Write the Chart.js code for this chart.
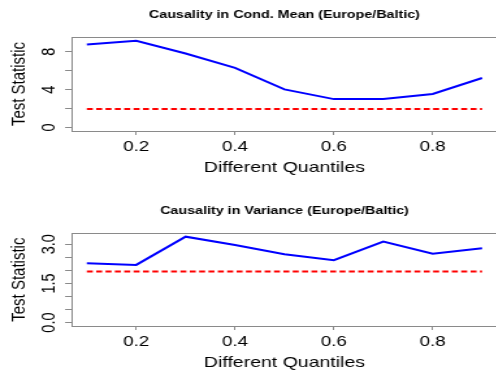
<!DOCTYPE html>
<html>
<head>
<meta charset="utf-8">
<script src="https://cdn.jsdelivr.net/npm/chart.js@4.4.0/dist/chart.umd.min.js"></script>
<style>
  html, body { margin: 0; padding: 0; background: #fff; overflow: hidden; width: 496px; height: 377px; }
  .panel { position: absolute; left: 0; transform-origin: 0 0; transform: scaleX(1.3); }
  #panelTop { top: 0; }
  #panelBottom { top: 190px; }
</style>
</head>
<body>
<div class="panel" id="panelTop"><canvas id="meanChart" width="392" height="190"></canvas></div>
<div class="panel" id="panelBottom"><canvas id="varChart" width="392" height="187"></canvas></div>
<script>
// data
const quantiles = [0.1, 0.2, 0.3, 0.4, 0.5, 0.6, 0.7, 0.8, 0.9];
const meanStats = [8.78, 9.16, 7.82, 6.30, 4.03, 3.00, 3.00, 3.54, 5.23];
const meanCritical = [1.96, 1.96, 1.96, 1.96, 1.96, 1.96, 1.96, 1.96, 1.96];
const varianceStats = [2.27, 2.21, 3.29, 2.97, 2.62, 2.39, 3.10, 2.64, 2.85];
const varianceCritical = [1.96, 1.96, 1.96, 1.96, 1.96, 1.96, 1.96, 1.96, 1.96];

const xTicks = [0.2, 0.4, 0.6, 0.8];
const meanYTicks = [0, 2, 4, 6, 8];
const meanYLabels = [0, 4, 8];
const varianceYTicks = [0, 0.5, 1.0, 1.5, 2.0, 2.5, 3.0];
const varianceYLabels = [0, 1.5, 3.0];

const FONT = "'Liberation Sans', Arial, sans-serif";
const GRAY = '#8a8a8a';

// box, rotated y labels and panel title
const rPlotPlugin = {
  id: 'rPlot',
  afterDraw(chart) {
    const ctx = chart.ctx;
    const area = chart.chartArea;
    const opts = chart.options.plugins.rPlot;
    const yScale = chart.scales.y;
    ctx.save();
    ctx.strokeStyle = GRAY;
    ctx.lineWidth = 1;
    ctx.strokeRect(Math.round(area.left) + 0.5, Math.round(area.top) + 0.5,
      Math.round(area.right - area.left), Math.round(area.bottom - area.top));

    ctx.fillStyle = '#000';
    ctx.font = '14.5px ' + FONT;
    ctx.textAlign = 'center';
    ctx.textBaseline = 'middle';
    opts.yLabels.forEach(v => {
      const py = yScale.getPixelForValue(v);
      ctx.save();
      ctx.translate(opts.yLabelX, py);
      ctx.rotate(-Math.PI / 2);
      ctx.fillText(v.toFixed(opts.digits), 0, 0);
      ctx.restore();
    });

    ctx.font = 'bold 11px ' + FONT;
    ctx.fillText(opts.title, (area.left + area.right) / 2, opts.titleY);
    ctx.restore();
  }
};

function makePanel(id, cfg) {
  const canvas = document.getElementById(id);
  const H = canvas.height;
  const pts = arr => quantiles.map((q, i) => ({ x: q, y: arr[i] }));
  return new Chart(canvas, {
    type: 'line',
    data: {
      datasets: [
        { data: pts(cfg.values), borderColor: '#0000ff', borderWidth: 2, pointRadius: 0, tension: 0 },
        { data: pts(cfg.critical), borderColor: '#ff0000', borderWidth: 2, borderDash: [4.6, 2.6], pointRadius: 0 }
      ]
    },
    options: {
      responsive: false,
      animation: false,
      events: [],
      layout: { padding: { top: cfg.areaTop, right: 9, left: 0, bottom: 0 } },
      plugins: {
        legend: { display: false },
        tooltip: { enabled: false },
        rPlot: { yLabels: cfg.yLabels, digits: cfg.digits, yLabelX: 38, title: cfg.title, titleY: cfg.titleY }
      },
      scales: {
        x: {
          type: 'linear',
          min: 0.068,
          max: 0.932,
          afterBuildTicks: s => { s.ticks = xTicks.map(v => ({ value: v })); },
          afterFit: s => { s.height = H - cfg.areaBottom; },
          ticks: { callback: v => v.toFixed(1), color: '#000', font: { family: FONT, size: 14.5 }, padding: 3, maxRotation: 0 },
          grid: { drawOnChartArea: false, drawTicks: true, tickLength: 4, color: GRAY },
          border: { display: false },
          title: { display: true, text: 'Different Quantiles', color: '#000', font: { family: FONT, size: 15 }, padding: { top: 0, bottom: cfg.xTitlePad } }
        },
        y: {
          min: cfg.yMin,
          max: cfg.yMax,
          afterBuildTicks: s => { s.ticks = cfg.yTicks.map(v => ({ value: v })); },
          afterFit: s => { s.width = 54.6; },
          ticks: { display: false },
          grid: { drawOnChartArea: false, drawTicks: true, tickLength: 4.5, color: GRAY },
          border: { display: false },
          title: { display: true, text: 'Test Statistic', color: '#000', font: { family: FONT, size: 15 }, padding: { top: 5.6, bottom: 0 } }
        }
      }
    },
    plugins: [rPlotPlugin]
  });
}

makePanel('meanChart', {
  values: meanStats, critical: meanCritical,
  yMin: -0.37, yMax: 9.56, yTicks: meanYTicks, yLabels: meanYLabels, digits: 0,
  title: 'Causality in Cond. Mean (Europe/Baltic)', titleY: 15,
  areaTop: 37, areaBottom: 131, xTitlePad: 13
});

makePanel('varChart', {
  values: varianceStats, critical: varianceCritical,
  yMin: -0.13, yMax: 3.42, yTicks: varianceYTicks, yLabels: varianceYLabels, digits: 1,
  title: 'Causality in Variance (Europe/Baltic)', titleY: 20.7,
  areaTop: 43.3, areaBottom: 136, xTitlePad: 5
});
</script>
</body>
</html>
